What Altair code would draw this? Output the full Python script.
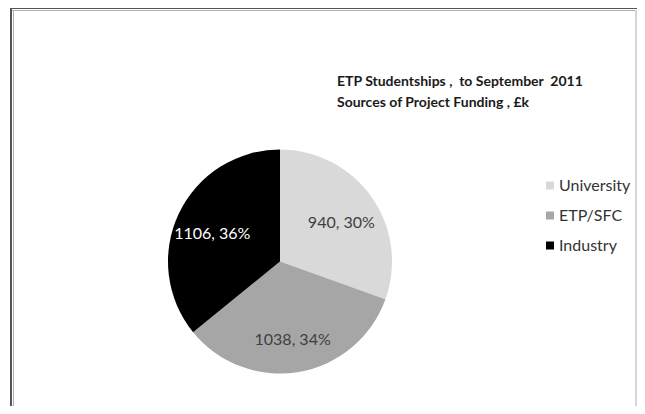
import altair as alt
import pandas as pd

categories = ["University", "ETP/SFC", "Industry"]
values = [940, 1038, 1106]
percents = ["30%", "34%", "36%"]
slice_colors = ["#d9d9d9", "#a6a6a6", "#000000"]
label_colors = ["#404040", "#404040", "#ffffff"]
title_lines = ["ETP Studentships ,\u00a0 to September\u00a0 2011",
               "Sources of Project Funding , £k"]

df = pd.DataFrame({
    "category": categories,
    "value": values,
    "order": list(range(len(categories))),
    "label": [f"{v}, {p}" for v, p in zip(values, percents)],
    "label_color": label_colors,
})
one = pd.DataFrame({"a": [0]})

W, H = 629, 398
CX, CY, R = 272, 253.5, 112

base = alt.Chart(df).encode(
    theta=alt.Theta("value:Q", stack=True),
    order=alt.Order("order:Q"),
)

pie = base.mark_arc(outerRadius=R, x=CX, y=CY).encode(
    color=alt.Color(
        "category:N",
        sort=categories,
        scale=alt.Scale(domain=categories, range=slice_colors),
        legend=alt.Legend(
            title=None, orient="none", legendX=534, legendY=169.5,
            symbolType="square", symbolSize=64, symbolStrokeWidth=0,
            labelFont="Lato", labelFontSize=16, labelColor="#333333",
            rowPadding=14, padding=0, labelOffset=1,
        ),
    )
)

labels = base.mark_text(radius=75, dy=5, x=CX, y=CY, font="Lato", fontSize=16).encode(
    text="label:N",
    color=alt.Color("label_color:N", scale=None),
)

title = alt.Chart(one).mark_text(
    text=title_lines, align="left", baseline="alphabetic",
    font="Lato", fontSize=14, fontWeight="bold", color="#1a1a1a", lineHeight=21,
).encode(x=alt.value(329), y=alt.value(78))

frame_top = alt.Chart(one).mark_rule(color="#555555", strokeWidth=2).encode(
    x=alt.value(2), x2=alt.value(W), y=alt.value(0))
frame_top2 = alt.Chart(one).mark_rule(color="#b0b0b0", strokeWidth=1).encode(
    x=alt.value(4), x2=alt.value(W - 2), y=alt.value(2.5))
frame_left = alt.Chart(one).mark_rule(color="#555555", strokeWidth=2).encode(
    y=alt.value(0), y2=alt.value(H), x=alt.value(3))
frame_left2 = alt.Chart(one).mark_rule(color="#b0b0b0", strokeWidth=1).encode(
    y=alt.value(2), y2=alt.value(H), x=alt.value(5.5))
frame_right = alt.Chart(one).mark_rule(color="#c8c8c8", strokeWidth=1.5).encode(
    y=alt.value(2), y2=alt.value(H), x=alt.value(W - 1))

chart = alt.layer(
    frame_top, frame_top2, frame_left, frame_left2, frame_right, pie, labels, title
).properties(
    width=W, height=H, autosize=alt.AutoSizeParams(type="none"), padding=0,
    background="white",
).configure_view(stroke=None)

chart.save("out.html", embed_options={"renderer": "svg", "actions": False})
